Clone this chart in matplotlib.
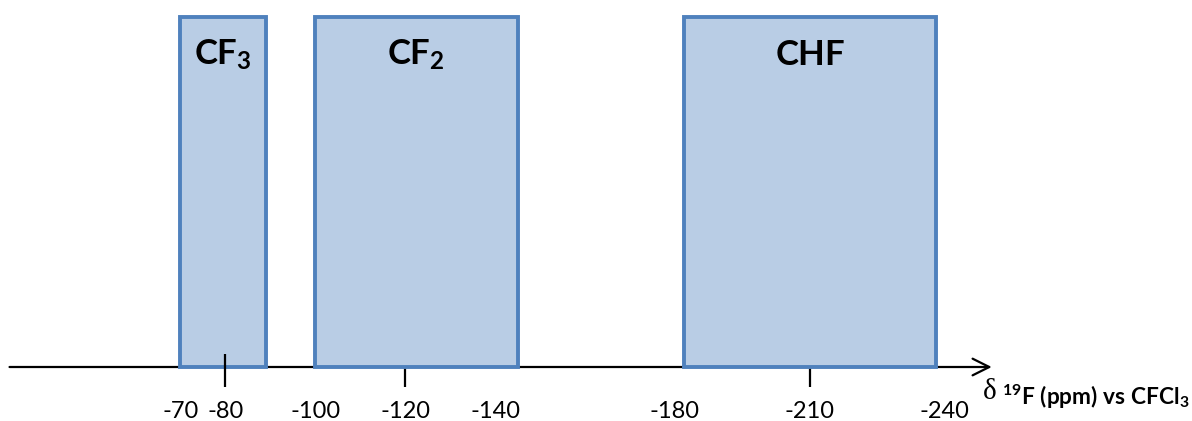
import matplotlib.pyplot as plt
from matplotlib.patches import Rectangle
from matplotlib.transforms import blended_transform_factory

# chemical shift regions (ppm vs CFCl3)
groups     = [r"$\mathbf{CF_3}$", r"$\mathbf{CF_2}$", r"$\mathbf{CHF}$"]
box_start  = [-70, -100, -182]
box_end    = [-89, -145, -238]
tick_marks = [-80, -120, -210]
tick_labels = [-70, -80, -100, -120, -140, -180, -210, -240]
axis_label = r"$\mathbf{^{19}F\ (ppm)\ vs\ CFCl_3}$"

FILL = "#B9CDE5"
EDGE = "#4F81BD"

plt.rcParams["font.family"] = ["Lato", "DejaVu Sans"]
plt.rcParams["mathtext.fontset"] = "custom"
plt.rcParams["mathtext.rm"] = "Lato"
plt.rcParams["mathtext.bf"] = "Lato:bold"
plt.rcParams["mathtext.it"] = "Lato:italic"

fig = plt.figure(figsize=(11.92, 4.21), dpi=100)
ax = fig.add_axes([0, 0, 1, 1])
ax.set_xlim(-29.9, -295.0)
ax.set_ylim(0, 421)
ax.axis("off")
mixed = blended_transform_factory(ax.transAxes, ax.transData)

AXIS_Y = 54
BOX_TOP = 404

# main axis with open arrow head
ax.annotate("", xy=(0.832, AXIS_Y), xytext=(0.008, AXIS_Y),
            xycoords=mixed,
            arrowprops=dict(arrowstyle="->, head_length=0.4, head_width=0.2",
                            mutation_scale=30, lw=1.6, color="black",
                            shrinkA=0, shrinkB=0),
            zorder=1)

# ticks: the CF3 one shows on top of its box, the others sit behind
tick_z = [4, 1, 1]
for t, z in zip(tick_marks, tick_z):
    ax.plot([t, t], [34, 67], color="black", lw=1.6, zorder=z,
            solid_capstyle="butt")

for name, s, e in zip(groups, box_start, box_end):
    ax.add_patch(Rectangle((s, AXIS_Y), e - s, BOX_TOP - AXIS_Y,
                           facecolor=FILL, edgecolor=EDGE, lw=2.8, zorder=2))
    ax.text((s + e) / 2, 356, name, ha="center", va="baseline",
            fontsize=25, zorder=5)

for v in tick_labels:
    ax.text(v, 3, str(v), ha="center", va="baseline", fontsize=17)

# delta in a serif face, rest of the label in bold
d = ax.text(0.8247, 22, "δ", transform=mixed, ha="left", va="baseline",
            fontsize=21, family="Liberation Serif")
ax.annotate(axis_label, xy=(1, 0), xycoords=d, xytext=(4, 0),
            textcoords="offset points", ha="left", va="baseline",
            fontsize=16.3)

fig.savefig("out.png", dpi=100)
